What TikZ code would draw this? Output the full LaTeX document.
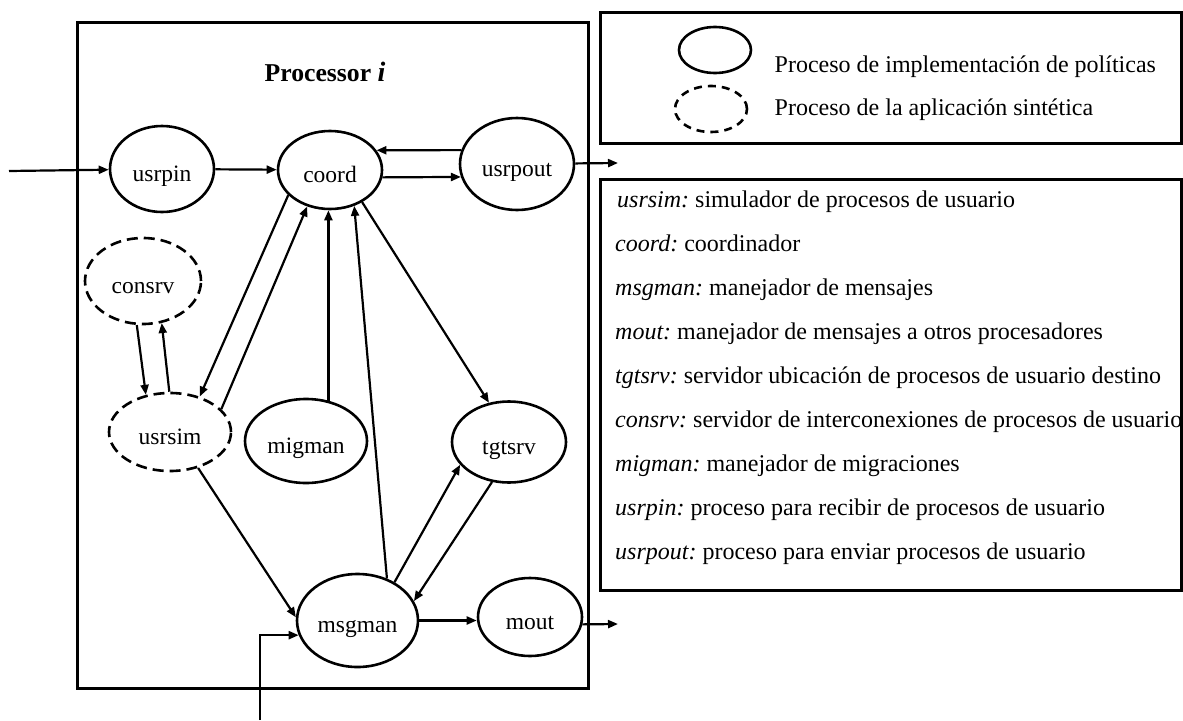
\documentclass[tikz,border=0pt]{standalone}
\usepackage{fontspec}
\setmainfont{Liberation Serif}
\usetikzlibrary{shapes.geometric,arrows.meta}
\frenchspacing
\tikzset{
  proc/.style={ellipse, draw, line width=2.6pt, inner sep=0pt, text height=24pt, text depth=0pt, font=\fontsize{23.5}{26}\selectfont},
  synth/.style={proc, dash pattern=on 11pt off 6pt},
  arr/.style={line width=2.2pt, -{Triangle[length=10pt,width=8pt]}},
  box/.style={draw, line width=3pt},
  legtxt/.style={anchor=base west, inner sep=0pt, font=\fontsize{24}{28}\selectfont},
}
\begin{document}
\begin{tikzpicture}[x=1pt,y=-1pt]
\useasboundingbox (0,0) rectangle (1183,720);
% processor box
\draw[box] (77,22) rectangle (588,688);
\node[font=\fontsize{25.7}{28}\selectfont\bfseries] (title) at (325,72) {Processor {\fontsize{28}{28}\selectfont\textit{i}}};
% nodes
\node[proc, minimum width=104pt, minimum height=86pt] (usrpin) at (162,169) {usrpin};
\node[proc, minimum width=104pt, minimum height=78pt] (coord) at (330,170) {coord};
\node[proc, minimum width=114pt, minimum height=92pt] (usrpout) at (517,164) {usrpout};
\node[synth, minimum width=116pt, minimum height=86pt] (consrv) at (143,281) {consrv};
\node[synth, minimum width=122pt, minimum height=78pt] (usrsim) at (170,432) {usrsim};
\node[proc, minimum width=122pt, minimum height=84pt] (migman) at (306,441) {migman};
\node[proc, minimum width=114pt, minimum height=81pt] (tgtsrv) at (509,442) {tgtsrv};
\node[proc, minimum width=121pt, minimum height=93pt] (msgman) at (357.5,620.5) {msgman};
\node[proc, minimum width=104pt, minimum height=78pt] (mout) at (530,617) {mout};
% free ends
\coordinate (inA) at (9,171);
\coordinate (outA) at (618,163);
\coordinate (outB) at (618,624);
\coordinate (inB) at (260,720);
% connectors
\draw[arr] (inA) -- (usrpin);
\draw[arr] (usrpin) -- (coord);
\draw[arr] (usrpout.166) -- (coord.23);
\draw[arr] (coord.-8) -- (usrpout.193);
\draw[arr] (usrpout) -- (outA);
\draw[arr] (coord.211) -- (usrsim.50);
\draw[arr] (usrsim.24) -- (coord.238);
\draw[arr] (migman.61) -- (migman.61 |- coord.south);
\draw[arr] (msgman.55) -- (coord.-56);
\draw[arr] (coord.-45) -- (tgtsrv.117);
\draw[arr] (consrv.262) -- (usrsim.123);
\draw[arr] (usrsim.91) -- (consrv.-66);
\draw[arr] (usrsim.-52) -- (msgman.177);
\draw[arr] (msgman.46) -- (tgtsrv.205);
\draw[arr] (tgtsrv.247) -- (msgman.19);
\draw[arr] (msgman.east) -- (msgman.east -| mout.west);
\draw[arr] (mout.-8) -- (outB);
\draw[arr] (inB) |- (msgman.194);
% legend 1
\draw[box] (600,12) rectangle (1181,143);
\node[ellipse, draw, line width=2.6pt, minimum width=72pt, minimum height=46pt] (legsolid) at (715,50) {};
\node[ellipse, draw, line width=2.6pt, dash pattern=on 8pt off 6pt, minimum width=72pt, minimum height=46pt] (legdash) at (711,109) {};
\node[legtxt] (legt1) at (774.5,72) {Proceso de implementación de políticas};
\node[legtxt] (legt2) at (774.5,115) {Proceso de la aplicación sintética};
% legend 2
\draw[box] (600,179) rectangle (1181,590);
\node[legtxt] (d1) at (617,207) {\textit{usrsim:} simulador de procesos de usuario};
\node[legtxt] (d2) at (615,251) {\textit{coord:} coordinador};
\node[legtxt] (d3) at (615,295) {\textit{msgman:} manejador de mensajes};
\node[legtxt] (d4) at (615,339) {\textit{mout:} manejador de mensajes a otros procesadores};
\node[legtxt] (d5) at (615,383) {\textit{tgtsrv:} servidor ubicación de procesos de usuario destino};
\node[legtxt] (d6) at (615,427) {\textit{consrv:} servidor de interconexiones de procesos de usuario};
\node[legtxt] (d7) at (615,471) {\textit{migman:} manejador de migraciones};
\node[legtxt] (d8) at (615,515) {\textit{usrpin:} proceso para recibir de procesos de usuario};
\node[legtxt] (d9) at (615,559) {\textit{usrpout:} proceso para enviar procesos de usuario};
\end{tikzpicture}
\end{document}
